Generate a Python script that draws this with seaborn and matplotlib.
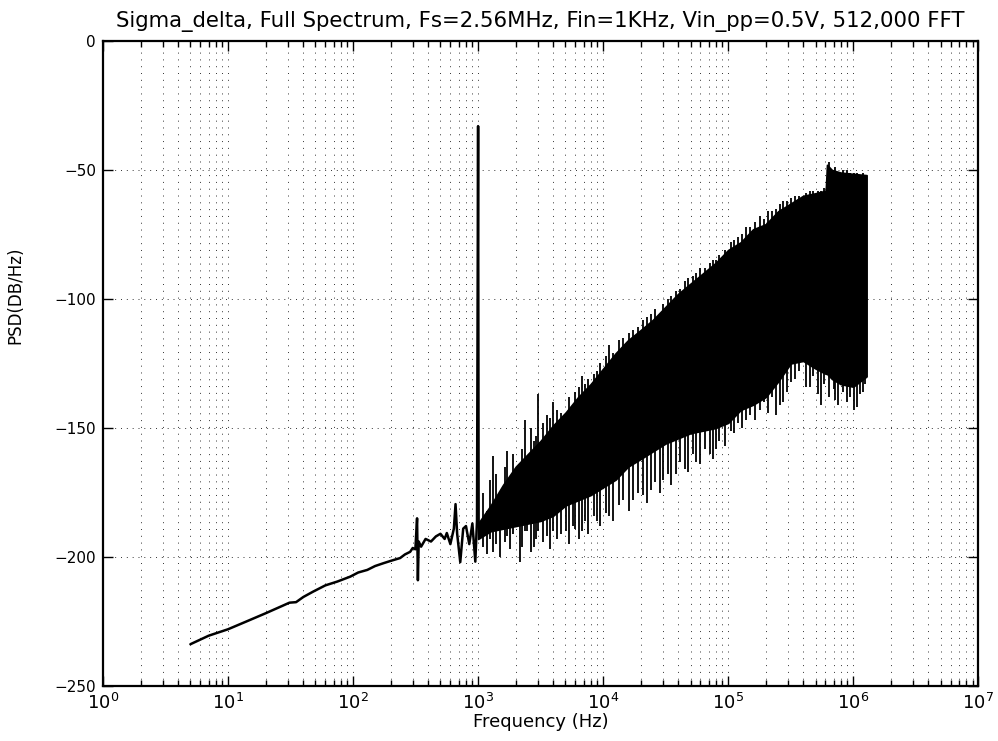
import pandas as pd
import seaborn as sns
import matplotlib.pyplot as plt
import numpy as np
from matplotlib.ticker import LogLocator, FixedLocator

# Low-frequency part of the trace (Hz, dB/Hz)
lf_freq = [5, 7, 10, 14, 20, 27, 31, 35, 40, 48, 60, 75, 95, 110, 130, 150,
           175, 200, 238, 260, 286, 300, 315, 325, 330, 335, 350, 380, 420,
           460, 500, 540, 562, 600, 640, 660, 680, 720, 760, 800, 850, 900,
           950, 980, 1000, 1010]
lf_psd = [-233.8, -230.5, -228, -225, -221.8, -219, -217.7, -217.5, -215.5,
          -213.4, -211, -209.5, -207.6, -206, -205, -203.5, -202.4, -201.5,
          -200.4, -199, -198, -196.5, -197, -185, -209, -194, -196, -193,
          -194, -192, -191, -193, -190.7, -195, -189, -179.5, -191, -202,
          -189, -188, -195, -187, -201.8, -186, -33, -187]

# Noise band above 1 kHz: upper / lower envelope of the dense part
band_freq = [1000, 1260, 1585, 2000, 2510, 3160, 3980, 5010, 6310, 7940,
             10000, 12600, 15800, 20000, 25100, 31600, 39800, 50100, 63100,
             79400, 100000, 126000, 158000, 200000, 251000, 316000, 398000,
             501000, 603000, 617000, 676000, 794000, 1000000, 1280000]
band_upper = [-187, -180, -172, -165, -160, -155, -149, -144, -138, -133,
              -127, -121, -116, -112, -108, -103, -98, -94, -90, -86,
              -81, -78, -73, -71, -66, -63, -60, -59,
              -58, -48, -50, -51, -51.5, -52]
band_lower = [-193, -190, -189, -188, -187, -186, -184, -180, -178, -176,
              -173, -170, -165, -162, -159, -156, -154, -152, -151, -150,
              -148, -143, -141, -138, -132, -125, -124, -127,
              -129, -129, -131, -133, -134, -130]

# Larger spikes sticking out of the band (Hz, max dB, min dB)
spike_freq = [1320, 1700, 2170, 2380, 2800, 3020, 3550, 4270, 5010, 5750,
              6760, 8900, 11200, 13500, 17400, 21000, 24000, 30000, 38000,
              45000, 60000, 72000, 80000, 105000, 140000, 180000, 240000,
              275000, 320000, 450000, 550000, 720000, 890000, 1070000, 1200000]
spike_hi = [-161, -159, -164, -147, -155, -137, -145, -143, -146, -141,
            -130, -128, -118, -116, -112, -108, -106, -102, -97,
            -93, -88, -86, -85, -78, -72, -68, -65,
            -62, -61, -58, -58, -49, -50, -51, -51]
spike_lo = [-198, -192, -202, -190, -196, -190, -192, -193, -190, -188,
            -190, -186, -184, -180, -178, -176, -174, -170, -168,
            -166, -164, -160, -158, -151, -147, -143, -145,
            -140, -132, -134, -141, -139, -140, -142, -136]

# Smaller spikes along both edges of the band
fine_freq = [1100, 1180, 1250, 1400, 1500, 1650, 1800, 1900, 2250, 2450,
             2650, 2900, 3300, 3750, 4000, 4600, 5300, 6000, 6400, 7200,
             7600, 8400, 9500, 10500, 12000, 14500, 16000, 19000, 22500,
             26000, 28500, 33000, 35000, 41000, 48000, 52000, 55000, 65000,
             76000, 85000, 95000, 112000, 120000, 130000, 150000, 165000,
             195000, 210000, 225000, 260000, 295000, 340000, 370000, 420000,
             480000, 520000, 580000, 640000, 700000, 760000, 830000, 950000,
             1010000, 1130000, 1250000]
fine_hi = [-175, -182, -170, -168, -176, -165, -172, -160, -158, -162,
           -150, -153, -148, -146, -140, -144, -138, -136, -134, -133,
           -131, -129, -125, -122, -121, -115, -113, -111, -107,
           -104, -106, -100, -99, -96, -92, -91, -90, -88,
           -85, -83, -81, -77, -76, -75, -72, -70,
           -69, -66, -66, -63, -62, -60, -60, -59,
           -58, -58, -57, -47, -50, -51, -50, -51,
           -51, -52, -52]
fine_lo = [-196, -199, -193, -195, -200, -194, -197, -191, -196, -190,
           -198, -193, -194, -197, -190, -191, -195, -189, -193, -186,
           -191, -184, -188, -183, -186, -178, -182, -175, -179,
           -171, -175, -168, -172, -163, -167, -160, -163, -158,
           -162, -155, -157, -152, -148, -150, -145, -147,
           -140, -144, -138, -141, -136, -131, -128, -134,
           -130, -137, -133, -138, -135, -141, -136, -138,
           -143, -137, -133]

x_ticks = [1, 10, 100, 1000, 10000, 100000, 1000000, 10000000]
y_ticks = [-250, -200, -150, -100, -50, 0]


def create_psd_plot(output_path='out.png'):
    sns.set_theme(style="ticks")
    plt.rcParams['font.family'] = ['DejaVu Sans']
    plt.rcParams['mathtext.fontset'] = 'dejavusans'
    plt.rcParams['text.color'] = 'black'
    plt.rcParams['axes.labelcolor'] = 'black'
    plt.rcParams['xtick.color'] = 'black'
    plt.rcParams['ytick.color'] = 'black'

    fig = plt.figure(figsize=(9.98, 7.41), dpi=100)
    ax = fig.add_axes([0.1032, 0.0742, 0.877, 0.8705])

    lf = pd.DataFrame({'freq': lf_freq, 'psd': lf_psd})
    sns.lineplot(data=lf, x='freq', y='psd', sort=False, color='black',
                 linewidth=1.8, ax=ax)

    ax.fill_between(band_freq, band_lower, band_upper, color='black',
                    linewidth=1.2, edgecolor='black')
    ax.vlines(spike_freq, spike_lo, spike_hi, color='black', linewidth=1.3)
    ax.vlines(fine_freq, fine_lo, fine_hi, color='black', linewidth=1.3)

    ax.set_xscale('log')
    ax.set_xlim(1, 1e7)
    ax.set_ylim(-250, 0)
    ax.set_yticks(y_ticks)
    ax.xaxis.set_major_locator(FixedLocator(x_ticks))
    ax.xaxis.set_minor_locator(LogLocator(base=10, subs=np.arange(2, 10),
                                          numticks=100))

    ax.grid(which='both', axis='x', color='black', linestyle=(0, (1, 6)),
            linewidth=0.7, alpha=0.8)
    ax.grid(which='major', axis='y', color='black', linestyle=(0, (1, 5)),
            linewidth=0.7, alpha=0.8)

    ax.tick_params(which='both', direction='in', top=True, right=True,
                   color='black')
    ax.tick_params(which='major', length=7, width=1.0)
    ax.tick_params(which='minor', length=4, width=1.0)
    ax.tick_params(axis='x', which='major', labelsize=13, pad=5)
    ax.tick_params(axis='y', labelsize=11, pad=5)
    for s in ax.spines.values():
        s.set_linewidth(1.6)
        s.set_color('black')

    ax.set_xlabel('Frequency (Hz)', fontsize=13, labelpad=0)
    ax.set_ylabel('PSD(DB/Hz)', fontsize=12)
    ax.yaxis.set_label_coords(-0.09, 0.606)
    ax.set_title('Sigma_delta, Full Spectrum, Fs=2.56MHz, Fin=1KHz, '
                 'Vin_pp=0.5V, 512,000 FFT', fontsize=15.3, pad=10)

    plt.savefig(output_path, dpi=100)
    plt.close()


if __name__ == "__main__":
    create_psd_plot()
